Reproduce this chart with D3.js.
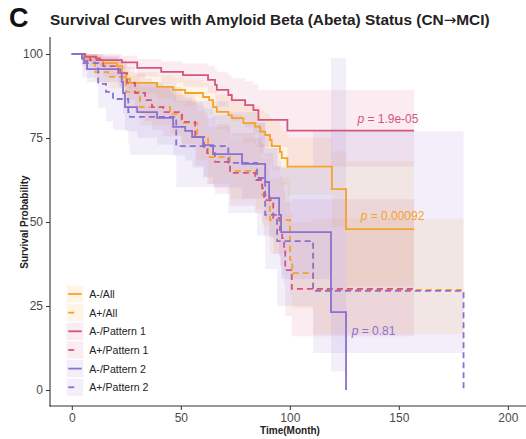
<!DOCTYPE html>
<html>
<head>
<meta charset="utf-8">
<script src="https://cdn.jsdelivr.net/npm/d3@7"></script>
<style>
  html, body { margin: 0; padding: 0; background: #fff; }
  svg { display: block; font-family: "Liberation Sans", Arial, sans-serif; }
</style>
</head>
<body>
<svg id="chart" width="526" height="439"></svg>
<script>
// ---- Kaplan–Meier estimates (time in months, survival in %) ----
const aNegAllTime  = [0, 4.7, 11.6, 14.4, 20.8, 23.1, 24.9, 26.7, 39.1, 46.5, 52.0, 60.2, 63.0, 64.8, 66.5, 71.8, 73.4, 78.7, 84.1, 86.4, 88.7, 90.9, 91.7, 95.5, 96.3, 98.9, 119.3, 125.8];
const aNegAllSurv  = [100, 99.1, 98.2, 97.3, 96.4, 94.3, 92.6, 91.4, 90.2, 89.3, 88.4, 87.2, 86.3, 84.2, 82.8, 81.8, 80.9, 79.4, 78.4, 76.9, 75.9, 74.4, 72.6, 70.9, 69.0, 66.5, 59.8, 47.9];
const aNegAllUpper = [100, 100, 99.6, 99, 98.4, 96.9, 95.6, 94.6, 93.7, 93, 92.3, 91.4, 90.7, 89, 87.9, 87.1, 86.4, 85.2, 84.4, 83.2, 82.4, 81.2, 79.8, 78.5, 77, 75, 71, 68];
const aNegAllLower = [100, 98.2, 96.8, 95.6, 94.4, 91.7, 89.6, 88.2, 86.7, 85.6, 84.5, 83, 81.9, 79.4, 77.7, 76.5, 75.4, 73.6, 72.4, 70.6, 69.4, 67.6, 65.4, 63.3, 61, 58, 48.6, 31];

const aPosAllTime  = [0, 5.7, 10.7, 16.7, 24.9, 31.3, 45.1, 50.2, 57.5, 62.5, 72.6, 84.5, 87.4, 90.9, 100.1, 101.1, 110.7];
const aPosAllSurv  = [100, 98.2, 94.6, 93.2, 88.7, 84.2, 82.1, 79.5, 75.3, 69.3, 65.2, 62.5, 58, 50.6, 38.7, 34.8, 29.8];
const aPosAllUpper = [100, 99.8, 97.5, 96.5, 93.3, 90, 88.4, 86.4, 83, 78.3, 75, 72.8, 69, 63, 53, 50, 51];
const aPosAllLower = [100, 96.2, 91.5, 89.7, 84.3, 78.8, 76.3, 73.2, 68.4, 61.4, 56.8, 53.8, 48.8, 40.6, 28.2, 24.3, 16.7];

const aNegP1Time  = [0, 6, 11, 13, 23, 30, 41, 51, 62.5, 65.7, 66.5, 71.8, 73.4, 79.5, 83.3, 85.6, 98.9];
const aNegP1Surv  = [100, 99.2, 98.7, 98.2, 97.5, 95.9, 94.7, 93.7, 92.3, 90.8, 89.3, 87.8, 86.3, 84.8, 83.3, 80.4, 77.2];
const aNegP1Upper = [100, 100, 100, 100, 99.5, 98.5, 97.8, 97.2, 96.4, 95.5, 94.6, 93.7, 92.8, 91.9, 91, 89.3, 89.3];
const aNegP1Lower = [100, 97.6, 97, 96.3, 95.5, 93.3, 91.6, 90.3, 88.4, 86.3, 84.3, 82.2, 80.2, 78.2, 76.2, 72.4, 66.5];

const aPosP1Time  = [0, 6.1, 8.4, 14.4, 21.3, 25.4, 29.0, 33.6, 36.8, 41.9, 50.6, 56.6, 60.7, 62.1, 65.7, 72.6, 84.1, 87.3, 88.2, 92.4, 95.5, 96.5, 97.4, 97.9, 100.9];
const aPosP1Surv  = [100, 99.1, 98.2, 96.4, 94.3, 91.4, 88.4, 86.3, 84.2, 82.7, 79.8, 75.3, 72.3, 70.5, 67.9, 64.6, 62.5, 60.1, 56.5, 51.2, 47.6, 45.2, 42.6, 35.7, 30.1];
const aPosP1Upper = [100, 100, 100, 99.2, 98, 96.2, 94.2, 92.7, 91.2, 90.2, 88, 84.6, 82.3, 81, 79, 76.5, 75, 73.2, 70.5, 66.5, 63.7, 61.8, 59.6, 56, 56.8];
const aPosP1Lower = [100, 97.4, 96, 93.3, 90.3, 86.4, 82.5, 79.9, 77.3, 75.5, 72, 66.7, 63.3, 61.3, 58.4, 54.8, 52.5, 49.8, 46, 40.5, 36.8, 34.3, 31.5, 22, 16];

const aNegP2Time  = [0, 4.7, 5.6, 7.0, 22.2, 22.9, 23.5, 24.4, 30.0, 39.1, 46.5, 52.0, 55.2, 60.2, 64.8, 78.1, 88.7, 90.5, 95.1, 96.0, 118.9, 125.8];
const aNegP2Surv  = [100, 98.8, 97.9, 95.5, 94.3, 91.7, 88.4, 84.2, 82.7, 81.0, 78.3, 77.1, 75.3, 72.9, 70.2, 67.3, 61.9, 57.1, 52.1, 47.0, 23.2, 0];
const aNegP2Upper = [100, 100, 100, 99.5, 98.8, 97.2, 95, 92, 91, 89.8, 87.8, 87, 85.6, 83.8, 81.8, 79.6, 75.5, 72, 68.2, 66, 98.8, 0];
const aNegP2Lower = [100, 96.5, 95, 91.6, 90, 86.5, 82.2, 77, 75.1, 73, 69.8, 68.3, 66.2, 63.4, 60.3, 57, 50.8, 45.3, 39.8, 33, 5.5, 0];

const aPosP2Time  = [0, 4.7, 12.1, 15.7, 18.9, 25.9, 26.7, 47.9, 71.8, 85.0, 88.7, 94.2, 110.7, 179.7];
const aPosP2Surv  = [100, 97.3, 91.1, 88.7, 86.6, 82.7, 81.3, 72.6, 67.6, 63.1, 52.1, 44.3, 29.5, 0];
const aPosP2Upper = [100, 100, 97.5, 96, 94.8, 92.5, 91.6, 86, 82.7, 79.5, 72, 66.5, 77, 0];
const aPosP2Lower = [100, 93, 84, 80, 77.4, 73, 70, 60.4, 52.7, 46, 36, 25, 11, 0];

// last follow-up time of each group
const groupEnd = [157, 179.7, 157, 157, 125.8, 179.7];

const groupNames  = ["A-/All", "A+/All", "A-/Pattern 1", "A+/Pattern 1", "A-/Pattern 2", "A+/Pattern 2"];
const groupColors = ["#F5A225", "#F5A225", "#D4567E", "#D4567E", "#8A70D0", "#8A70D0"];
const groupDashed = [false, true, false, true, false, true];

const xTicks = [0, 50, 100, 150, 200];
const yTicks = [0, 25, 50, 75, 100];

const pLabels = [
  { text: "1.9e-05", t: 131, s: 79.6, color: "#D4567E" },
  { text: "0.00092", t: 132.5, s: 50.6, color: "#F5A225" },
  { text: "0.81",    t: 128.4, s: 16.4, color: "#8A70D0" }
];

const series = [
  [aNegAllTime, aNegAllSurv, aNegAllUpper, aNegAllLower],
  [aPosAllTime, aPosAllSurv, aPosAllUpper, aPosAllLower],
  [aNegP1Time, aNegP1Surv, aNegP1Upper, aNegP1Lower],
  [aPosP1Time, aPosP1Surv, aPosP1Upper, aPosP1Lower],
  [aNegP2Time, aNegP2Surv, aNegP2Upper, aNegP2Lower],
  [aPosP2Time, aPosP2Surv, aPosP2Upper, aPosP2Lower]
].map((d, i) => {
  const pts = d[0].map((t, j) => ({ t, s: d[1][j], hi: d[2][j], lo: d[3][j] }));
  const last = pts[pts.length - 1];
  if (groupEnd[i] > last.t) pts.push({ t: groupEnd[i], s: last.s, hi: last.hi, lo: last.lo });
  return { name: groupNames[i], color: groupColors[i], dashed: groupDashed[i], pts };
});

// ---- layout ----
const svg = d3.select("#chart");
const x = d3.scaleLinear().domain([-10, 210]).range([50, 529.6]);
const y = d3.scaleLinear().domain([-5, 105]).range([406.8, 37.2]);

svg.append("defs").append("clipPath").attr("id", "plotClip")
  .append("rect").attr("x", 50).attr("y", 37).attr("width", 480).attr("height", 370);

const plot = svg.append("g").attr("clip-path", "url(#plotClip)");

// confidence bands
const band = d3.area()
  .curve(d3.curveStepAfter)
  .x(d => x(d.t)).y0(d => y(d.lo)).y1(d => y(d.hi));
plot.selectAll("path.band").data(series).join("path")
  .attr("class", "band")
  .attr("d", d => band(d.pts))
  .attr("fill", d => d.color)
  .attr("fill-opacity", 0.11)
  .attr("stroke", "none");

// survival curves
const step = d3.line().curve(d3.curveStepAfter).x(d => x(d.t)).y(d => y(d.s));
plot.selectAll("path.curve").data(series).join("path")
  .attr("class", "curve")
  .attr("d", d => step(d.pts))
  .attr("fill", "none")
  .attr("stroke", d => d.color)
  .attr("stroke-width", 1.8)
  .attr("stroke-dasharray", d => d.dashed ? "6,4" : null);

// p-values
const pg = svg.append("g").attr("font-size", 12);
pLabels.forEach(p => {
  const t = pg.append("text").attr("x", x(p.t)).attr("y", y(p.s)).attr("fill", p.color);
  t.append("tspan").attr("font-style", "italic").text("p");
  t.append("tspan").text(" = " + p.text);
});

// axes
const axisColor = "#333333";
const yAxis = svg.append("g").attr("transform", "translate(50,0)")
  .call(d3.axisLeft(y).tickValues(yTicks).tickSize(4).tickPadding(3));
const xAxis = svg.append("g").attr("transform", "translate(0,406)")
  .call(d3.axisBottom(x).tickValues(xTicks).tickSize(4).tickPadding(3));
[yAxis, xAxis].forEach(a => {
  a.select(".domain").remove();
  a.selectAll(".tick line").attr("stroke", axisColor).attr("stroke-width", 1);
  a.selectAll(".tick text").attr("fill", "#4a4a4a").attr("font-size", 12)
    .attr("font-family", "Liberation Sans, Arial, sans-serif");
});
svg.append("line").attr("x1", 50).attr("x2", 50).attr("y1", 37).attr("y2", 406.5)
  .attr("stroke", axisColor).attr("stroke-width", 1.1);
svg.append("line").attr("x1", 49.5).attr("x2", 526).attr("y1", 406).attr("y2", 406)
  .attr("stroke", axisColor).attr("stroke-width", 1.1);

// axis titles
svg.append("text").attr("x", 290).attr("y", 434).attr("text-anchor", "middle")
  .attr("font-size", 10).attr("font-weight", "bold").attr("fill", "#222").text("Time(Month)");
svg.append("text").attr("transform", "translate(28,222) rotate(-90)").attr("text-anchor", "middle")
  .attr("font-size", 10).attr("font-weight", "bold").attr("fill", "#222").text("Survival Probability");

// title
svg.append("text").attr("x", 9).attr("y", 27).attr("font-size", 27).attr("font-weight", "bold")
  .attr("fill", "#111").text("C");
const title = svg.append("text").attr("x", 50).attr("y", 25).attr("font-size", 15.4)
  .attr("font-weight", "bold").attr("fill", "#222");
title.append("tspan").text("Survival Curves with Amyloid Beta (Abeta) Status (CN");
title.append("tspan").attr("font-family", "DejaVu Sans").attr("font-weight", "normal")
  .attr("font-size", 15).text("\u2192");
title.append("tspan").text("MCI)");

// legend
const legend = svg.append("g").attr("transform", "translate(66.7,285.4)");
const rowH = 18.65;
const item = legend.selectAll("g").data(series).join("g")
  .attr("transform", (d, i) => `translate(0,${i * rowH})`);
item.append("rect").attr("width", 16.6).attr("height", 17.2)
  .attr("fill", d => d.color).attr("fill-opacity", 0.11);
item.append("line").attr("x1", 1.5).attr("x2", 15).attr("y1", 8.6).attr("y2", 8.6)
  .attr("stroke", d => d.color).attr("stroke-width", 1.8)
  .attr("stroke-dasharray", d => d.dashed ? "6,12" : null);
item.append("text").attr("x", 22.6).attr("y", 12.6).attr("font-size", 10.6)
  .attr("fill", "#222").text(d => d.name);
</script>
</body>
</html>
